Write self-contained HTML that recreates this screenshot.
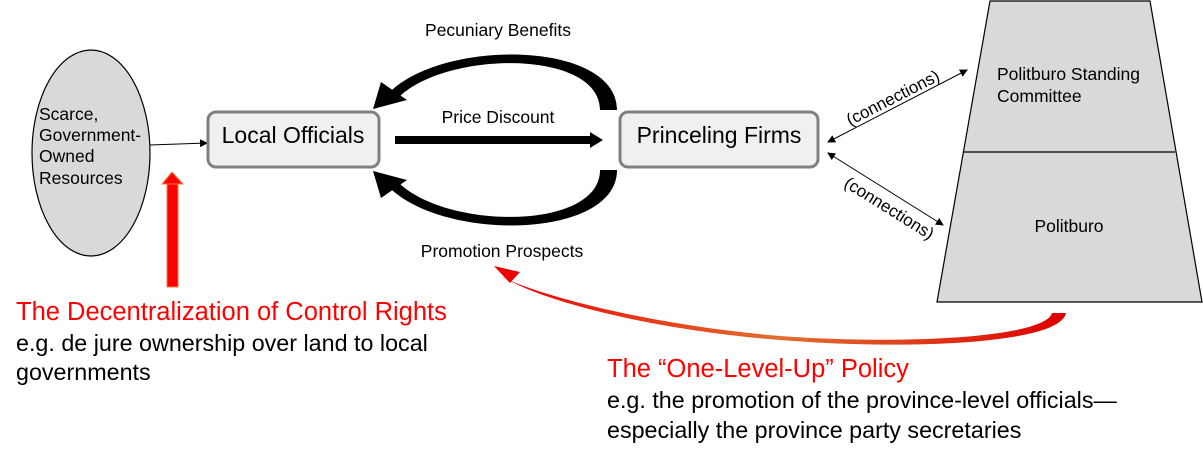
<!DOCTYPE html>
<html><head><meta charset="utf-8"><style>
body{margin:0;background:#fff;width:1203px;height:459px;overflow:hidden;font-family:"Liberation Sans",sans-serif}
</style></head><body>
<svg width="1203" height="459" viewBox="0 0 1203 459" xmlns="http://www.w3.org/2000/svg" font-family="Liberation Sans, sans-serif">
<defs>
<marker id="a" markerWidth="8" markerHeight="8" refX="7" refY="4" orient="auto" markerUnits="userSpaceOnUse"><path d="M0,0 L8,4 L0,8 z" fill="#000"/></marker>
<marker id="b" markerWidth="8" markerHeight="8" refX="1" refY="4" orient="auto" markerUnits="userSpaceOnUse"><path d="M8,0 L0,4 L8,8 z" fill="#000"/></marker>
<linearGradient id="g" x1="0" x2="1"><stop offset="0" stop-color="#e00"/><stop offset="0.5" stop-color="#e07030"/><stop offset="1" stop-color="#d00"/></linearGradient>
</defs>
<ellipse cx="91" cy="153" rx="59" ry="103" fill="#d9d9d9" stroke="#000" stroke-width="1.2"/>
<text font-size="17.5" fill="#000"><tspan x="39" y="120">Scarce,</tspan><tspan x="39" y="141">Government-</tspan><tspan x="39" y="162">Owned</tspan><tspan x="39" y="184">Resources</tspan></text>
<line x1="150" y1="145" x2="207" y2="143" stroke="#000" stroke-width="1" marker-end="url(#a)"/>
<rect x="208" y="112" width="171" height="55" rx="8" fill="#f0f0f0" stroke="#808080" stroke-width="3"/>
<text x="293" y="143" font-size="23" text-anchor="middle">Local Officials</text>
<rect x="620" y="112" width="198" height="55" rx="8" fill="#f0f0f0" stroke="#808080" stroke-width="3"/>
<text x="719" y="143" font-size="23" text-anchor="middle">Princeling Firms</text>
<text x="498" y="123" font-size="17.5" text-anchor="middle">Price Discount</text>
<rect x="395" y="136" width="196" height="8" fill="#000"/>
<path d="M590,132 L603,140 L590,148 z" fill="#000"/>
<!-- top arc -->
<path d="M617,110 C617,42 450,38 392,90 L400,96 C450,50 600,50 600,110 Z" fill="#000"/>
<path d="M373 109 L381 82 L407 100 z" fill="#000"/>
<text x="498" y="36" font-size="17.5" text-anchor="middle">Pecuniary Benefits</text>
<!-- bottom arc -->
<path d="M617,170 C617,238 450,242 392,190 L400,184 C450,230 600,230 600,170 Z" fill="#000"/>
<path d="M373 171 L381 198 L407 180 z" fill="#000"/>
<text x="502" y="257" font-size="17.5" text-anchor="middle">Promotion Prospects</text>
<path d="M990 1 L1150 1 L1202 302 L937 302 z" fill="#d9d9d9" stroke="#000" stroke-width="1.2"/>
<line x1="963" y1="152" x2="1175" y2="152" stroke="#000" stroke-width="1.2"/>
<text font-size="17.5"><tspan x="997" y="80">Politburo Standing</tspan><tspan x="997" y="102">Committee</tspan></text>
<text x="1069" y="232" font-size="17.5" text-anchor="middle">Politburo</text>
<line x1="828" y1="142" x2="967" y2="70" stroke="#000" stroke-width="1" marker-start="url(#b)" marker-end="url(#a)"/>
<line x1="828" y1="153" x2="943" y2="225" stroke="#000" stroke-width="1" marker-start="url(#b)" marker-end="url(#a)"/>
<text font-size="17" transform="translate(850,126) rotate(-27)">(connections)</text>
<text font-size="17" transform="translate(843,186) rotate(32)">(connections)</text>
<rect x="167" y="183" width="11" height="104" fill="#f00" stroke="#f08040" stroke-width="1"/>
<path d="M162 184 L172 172 L183 184 z" fill="#f00" stroke="#f08040" stroke-width="1"/>
<path d="M1066 313 C 1060 345, 900 350, 780 340 C 650 330, 540 300, 505 278 L 500 276 C 540 296, 650 325, 780 336 C 900 345, 1045 338, 1052 313 z" fill="url(#g)"/>
<path d="M494 266 L520 272 L510 283 z" fill="#e00"/>
<text x="16" y="320" font-size="25.5" fill="#f00">The Decentralization of Control Rights</text>
<text font-size="23.3" fill="#000"><tspan x="16" y="351">e.g. de jure ownership over land to local</tspan><tspan x="16" y="380">governments</tspan></text>
<text x="607" y="377" font-size="25.5" fill="#f00">The “One-Level-Up” Policy</text>
<text font-size="23.3" fill="#000"><tspan x="607" y="408">e.g. the promotion of the province-level officials—</tspan><tspan x="607" y="438">especially the province party secretaries</tspan></text>
</svg>
</body></html>
